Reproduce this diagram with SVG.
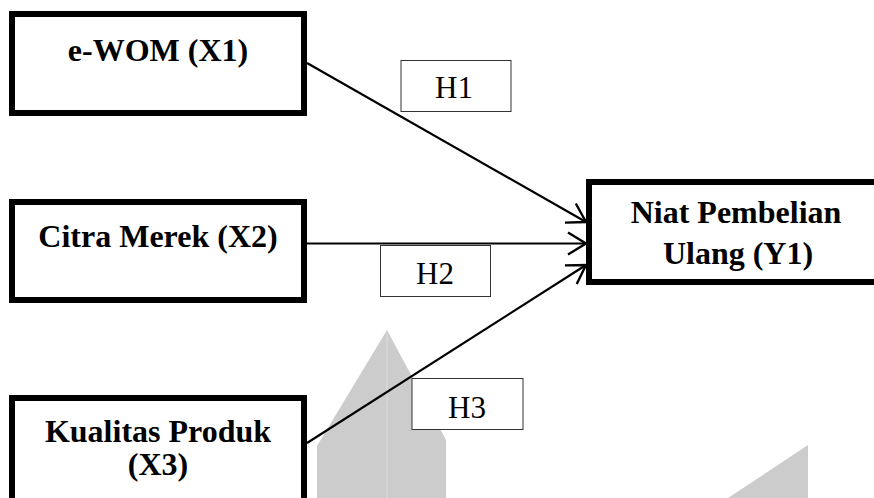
<svg xmlns="http://www.w3.org/2000/svg" width="874" height="498" viewBox="0 0 874 498">
<style>
.node rect{fill:#fff;stroke:#000;stroke-width:6}
.node text{font-family:"Liberation Serif","Times New Roman",serif;font-weight:bold;font-size:32px;text-anchor:middle;fill:#000}
.lbl rect{fill:#fff;stroke:#333;stroke-width:1}
.lbl text{font-family:"Liberation Serif","Times New Roman",serif;font-size:31px;text-anchor:middle;fill:#000}
.edge{stroke:#000;stroke-width:2.2;fill:none}
.wm{fill:#cccccc}
</style>
<defs>
<marker id="arr" markerUnits="userSpaceOnUse" markerWidth="26" markerHeight="26" viewBox="-22 -13 24 26" refX="0" refY="0" orient="auto">
<path d="M-18,-11 L0,0 L-18,11" fill="none" stroke="#000" stroke-width="2.4"/>
</marker>
</defs>
<g id="watermark">
<polygon class="wm" points="387,330 317,446 317,498 446,498 446,440"/>
<rect x="386" y="334" width="2" height="164" fill="#d4d4d4"/>
<polygon class="wm" points="728,498 808,445 808,498"/>
</g>
<g id="connectors">
<line class="edge" x1="307" y1="63" x2="586" y2="222" marker-end="url(#arr)"/>
<line class="edge" x1="307" y1="243.5" x2="586" y2="243.5" marker-end="url(#arr)"/>
<line class="edge" x1="307" y1="443" x2="586" y2="265" marker-end="url(#arr)"/>
</g>
<g id="label-h1" class="lbl"><rect x="401" y="60.5" width="110" height="51"/><text x="454" y="98">H1</text></g>
<g id="label-h2" class="lbl"><rect x="380.5" y="245.5" width="110" height="51"/><text x="435" y="284">H2</text></g>
<g id="label-h3" class="lbl"><rect x="412" y="378.5" width="111" height="51"/><text x="467" y="418">H3</text></g>
<g id="node-x1" class="node"><rect x="12" y="14" width="292" height="99"/><text x="158" y="61">e-WOM (X1)</text></g>
<g id="node-x2" class="node"><rect x="12" y="202" width="292" height="98"/><text x="158" y="247">Citra Merek (X2)</text></g>
<g id="node-x3" class="node"><rect x="12" y="398" width="292" height="106"/><text x="158" y="442">Kualitas Produk</text><text x="158" y="475">(X3)</text></g>
<g id="node-y1" class="node"><rect x="589" y="182" width="292" height="100"/><text x="736" y="223">Niat Pembelian</text><text x="738" y="264">Ulang (Y1)</text></g>
</svg>
